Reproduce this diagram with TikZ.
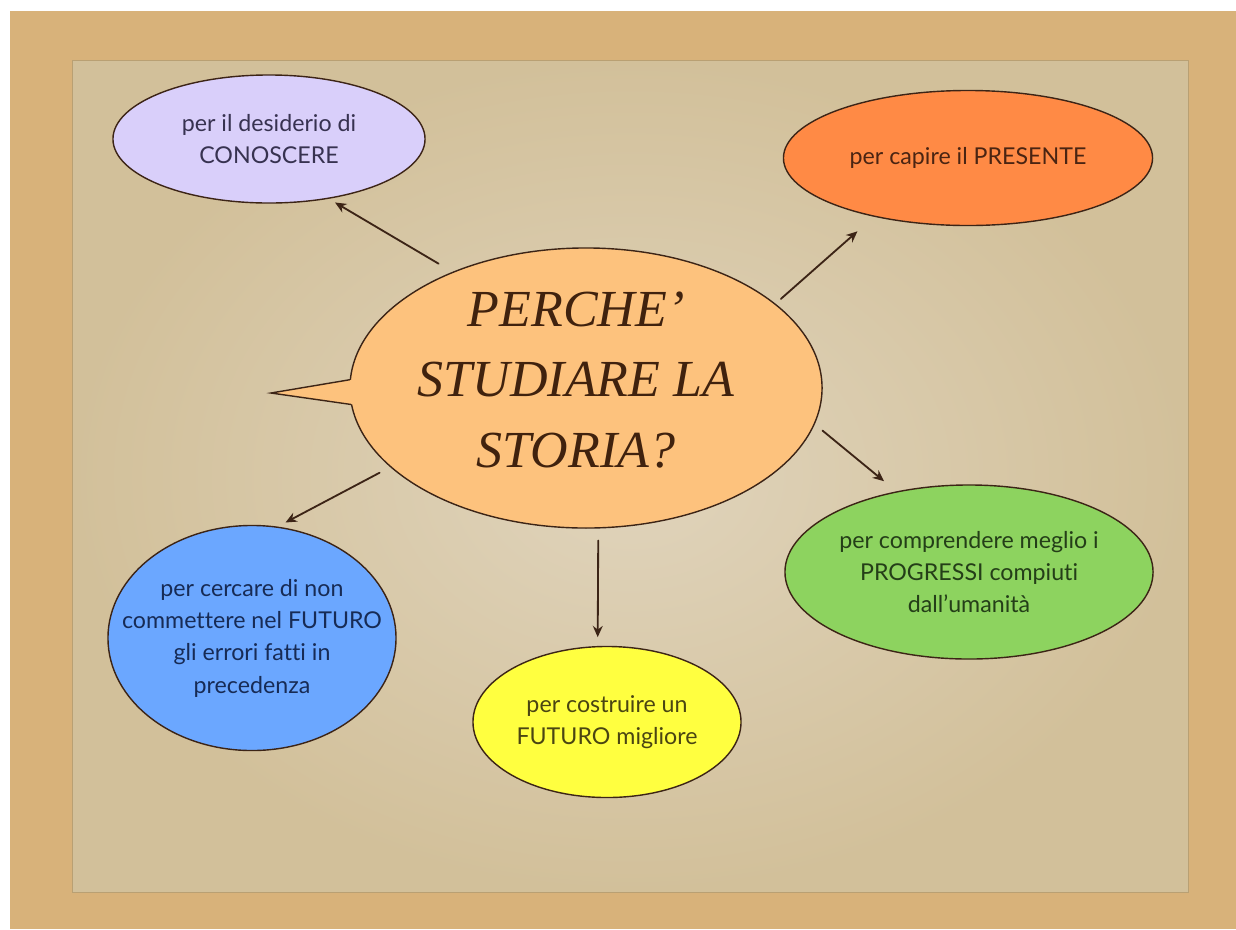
\documentclass[tikz,border=0pt]{standalone}
\usepackage{fontspec}
\setmainfont{Lato}[Ligatures=NoCommon]
\newfontfamily\titlefont{Liberation Serif}
\usetikzlibrary{shapes.geometric,arrows.meta}
\definecolor{sand}{RGB}{216,178,122}
\definecolor{paperlight}{RGB}{224,212,188}
\definecolor{paperdark}{RGB}{210,192,154}
\definecolor{paperedge}{RGB}{185,160,115}
\definecolor{inkbrown}{RGB}{60,36,22}
\definecolor{lilac}{RGB}{217,207,250}
\definecolor{lilacink}{RGB}{55,50,80}
\definecolor{mango}{RGB}{255,138,69}
\definecolor{mangoink}{RGB}{74,36,18}
\definecolor{apricot}{RGB}{253,194,125}
\definecolor{titleink}{RGB}{64,34,14}
\definecolor{lime}{RGB}{141,211,95}
\definecolor{limeink}{RGB}{36,62,24}
\definecolor{sky}{RGB}{107,167,255}
\definecolor{skyink}{RGB}{23,43,85}
\definecolor{lemon}{RGB}{255,255,64}
\definecolor{lemonink}{RGB}{74,69,18}
\tikzset{
  bubble/.style={ellipse,draw=inkbrown,line width=1pt,inner sep=0pt,align=center,
    font=\fontsize{16.5}{23}\selectfont},
  link/.style={draw=inkbrown,line width=1.3pt,-{Stealth[length=8pt,width=7pt]}},
}
\begin{document}
\begin{tikzpicture}[x=0.025cm,y=-0.025cm,line cap=round]
  \useasboundingbox (0,0) rectangle (1236,929);
  \fill[sand] (10,11) rectangle (1236,929);
  \shade[inner color=paperlight,outer color=paperdark] (72,60) rectangle (1188,892);
  \draw[paperedge,line width=0.6pt] (72,60) rectangle (1188,892);

  \node[bubble,fill=lilac,text=lilacink,minimum width=7.8cm,minimum height=3.2cm] (desiderio) at (269,139) {per il desiderio di\\CONOSCERE};
  \node[bubble,fill=mango,text=mangoink,minimum width=9.225cm,minimum height=3.375cm] (presente) at (968,158) {per capire il PRESENTE};
  \node[bubble,fill=lime,text=limeink,minimum width=9.2cm,minimum height=4.35cm] (progressi) at (969,572) {per comprendere meglio i\\PROGRESSI compiuti\\dall’umanità};
  \node[bubble,fill=sky,text=skyink,inner xsep=-0.8cm,minimum width=7.2cm,minimum height=5.625cm] (errori) at (252,638) {per cercare di non\\commettere nel FUTURO\\gli errori fatti in\\precedenza};
  \node[bubble,fill=lemon,text=lemonink,minimum width=6.7cm,minimum height=3.775cm] (futuro) at (607,722) {per costruire un\\FUTURO migliore};

  \node[bubble,fill=apricot,minimum width=11.8cm,minimum height=7cm] (storia) at (586,388) {};
  \coordinate (tip) at (271,393);
  \fill[apricot] (storia.178) -- (tip) -- (storia.184) -- ([xshift=0.3cm]storia.184) -- ([xshift=0.3cm]storia.178) -- cycle;
  \draw[inkbrown,line width=1pt,line join=miter] (storia.178) -- (tip) -- (storia.184);
  \node[font=\titlefont\itshape\fontsize{37}{50}\selectfont,text=titleink,align=center] (titolo) at (576,380) {PERCHE’\\STUDIARE LA\\STORIA?};

  \draw[link,shorten <=0.4cm,shorten >=0.18cm] (storia.139) -- (desiderio.-45);
  \draw[link,shorten <=0.18cm,shorten >=0.55cm] (storia.24) -- (presente.-148);
  \draw[link,shorten <=0.25cm,shorten >=0.4cm] (storia.-9) -- (progressi.132);
  \draw[link,shorten <=0.3cm,shorten >=0.22cm] (storia.-85) -- (futuro.97);
  \draw[link,shorten <=0.3cm,shorten >=0.22cm] (storia.-158) -- (errori.77);
\end{tikzpicture}
\end{document}
